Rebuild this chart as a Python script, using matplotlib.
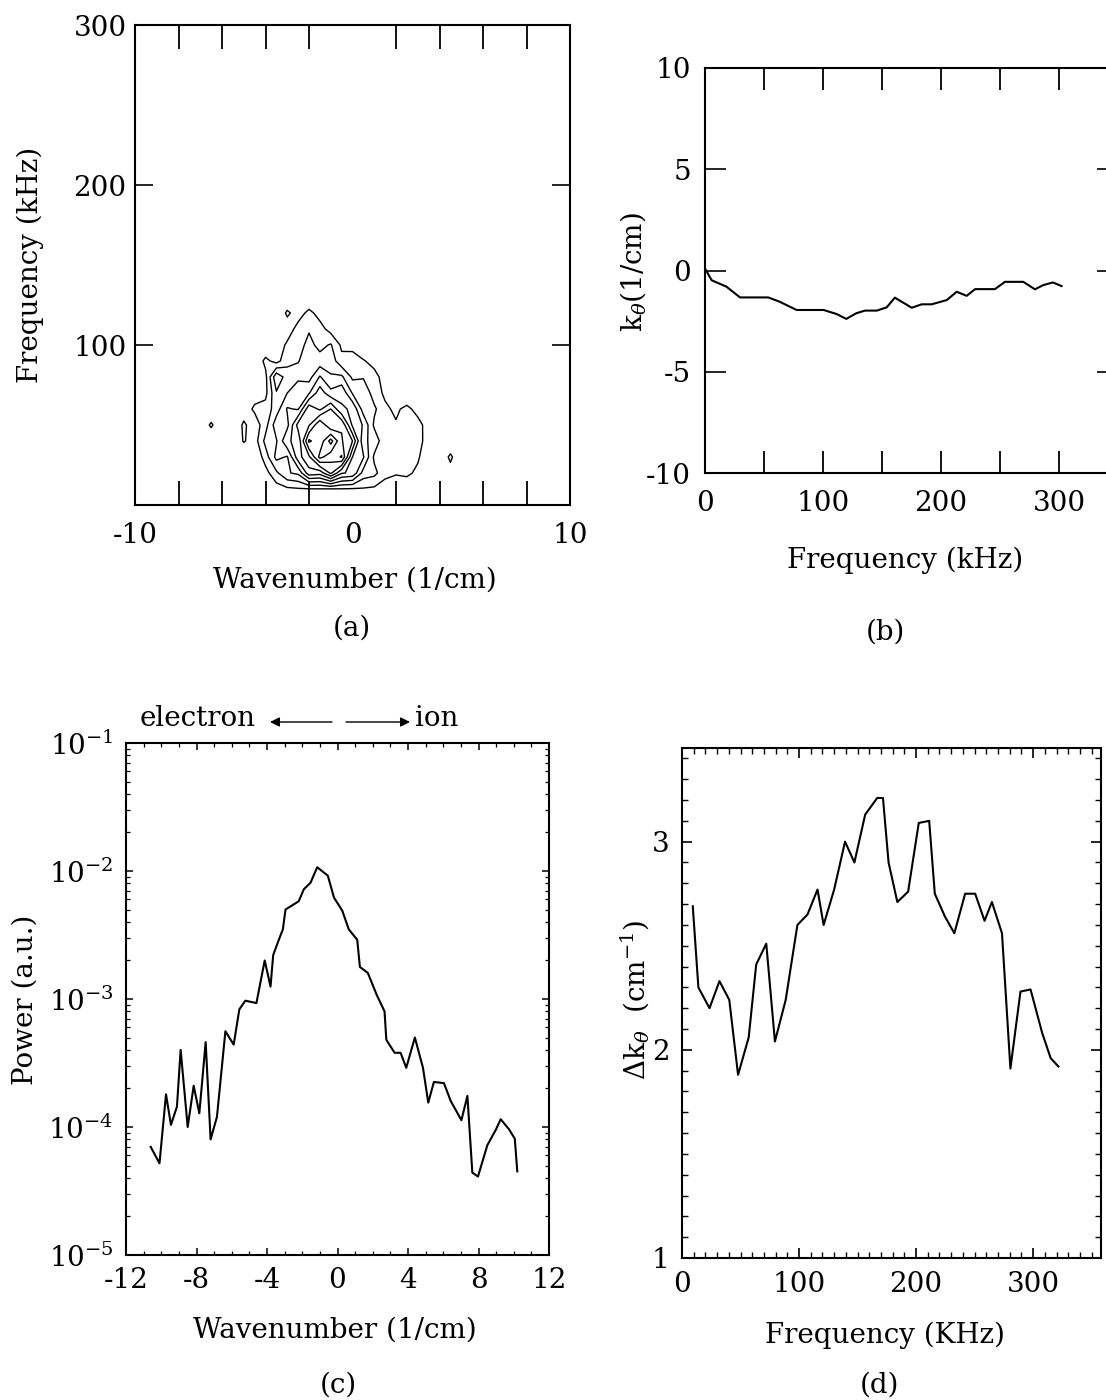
import numpy as np
import matplotlib
matplotlib.use("Agg")
import matplotlib.pyplot as plt
from matplotlib.ticker import MultipleLocator, LogLocator, NullFormatter

plt.rcParams["font.family"] = ["DejaVu Serif"]
plt.rcParams["mathtext.fontset"] = "dejavuserif"
plt.rcParams["axes.unicode_minus"] = False
plt.rcParams["font.size"] = 20

# (a) contour map: wavenumber grid x frequency grid
k_grid = [-7.0, -6.5, -6.0, -5.5, -5.0, -4.5, -4.0, -3.5, -3.0, -2.5, -2.0, -1.5, -1.0,
          -0.5, 0.0, 0.5, 1.0, 1.5, 2.0, 2.5, 3.0, 3.5, 4.0, 4.5, 5.0, 5.5]
f_grid = [0, 10, 20, 30, 40, 50, 60, 70, 80, 90, 100, 110, 120, 130]
power_grid = [
    [0, 0, 0, 0, 0, 0, 0, 0, 0, 0, 0, 0, 0, 0, 0, 0, 0, 0, 0, 0, 0, 0, 0, 0, 0, 0],
    [0, 0, 0, 0, 0, 0, 0, 0.5, 0.8, 0.9, 0.95, 0.95, 0.95, 0.95, 0.9, 0.9, 0.8, 0.5, 0.3, 0, 0, 0, 0, 0, 0, 0],
    [0, 0, 0, 0, 0, 0, 0.6, 1.8, 2.9, 3.2, 5.6, 5.4, 7.2, 5.1, 4.8, 2.6, 2.3, 1.3, 1.1, 1.3, 0.7, 0, 0.6, 0.5, 0, 0],
    [0, 0, 0, 0, 0, 0, 1.5, 3.3, 2.9, 5.6, 6.8, 9.3, 8.4, 9.1, 5.0, 4.1, 1.8, 1.6, 1.7, 1.4, 1.2, 0, 0, 1.25, 0, 0],
    [0, 0, 0, 0, 1.1, 0.5, 2.3, 2.9, 4.9, 5.2, 9.2, 8.3, 10.4, 8.1, 7.0, 3.2, 2.7, 1.2, 1.5, 1.8, 1.5, 0.4, 0, 0, 0, 0],
    [0, 1.2, 0, 0, 1.2, 0.4, 1.6, 3.6, 3.7, 6.4, 6.9, 8.9, 7.1, 7.9, 4.8, 3.9, 1.8, 1.6, 1.1, 1.7, 1.4, 0.5, 0, 0, 0, 0],
    [0, 0, 0, 0, 0.4, 1.2, 1.4, 2.5, 4.1, 3.9, 6.7, 5.8, 7.0, 5.1, 4.9, 2.5, 2.2, 1.2, 0.8, 1.3, 0.6, 0, 0, 0, 0, 0],
    [0, 0, 0, 0, 0, 0.5, 0.7, 2.9, 3.0, 3.6, 3.9, 5.6, 4.3, 4.8, 2.9, 2.8, 1.5, 0.8, 0, 0, 0, 0, 0, 0, 0, 0],
    [0, 0, 0, 0, 0, 0, 0.7, 3.8, 2.5, 2.8, 2.6, 4.1, 3.1, 3.2, 1.8, 1.9, 1.4, 0.5, 0, 0, 0, 0, 0, 0, 0, 0],
    [0, 0, 0, 0, 0, 0, 1.3, 0.6, 1.7, 1.9, 2.9, 2.4, 2.6, 1.3, 2.0, 1.1, 0.6, 0, 0, 0, 0, 0, 0, 0, 0, 0],
    [0, 0, 0, 0, 0, 0, 0, 0.3, 1.2, 1.6, 2.3, 1.7, 2.1, 0.8, 0.3, 0, 0, 0, 0, 0, 0, 0, 0, 0, 0, 0],
    [0, 0, 0, 0, 0, 0, 0, 0, 0.4, 1.4, 1.9, 1.4, 0.6, 0, 0, 0, 0, 0, 0, 0, 0, 0, 0, 0, 0, 0],
    [0, 0, 0, 0, 0, 0, 0, 0, 1.2, 0.5, 1.3, 0.6, 0, 0, 0, 0, 0, 0, 0, 0, 0, 0, 0, 0, 0, 0],
    [0, 0, 0, 0, 0, 0, 0, 0, 0, 0, 0, 0, 0, 0, 0, 0, 0, 0, 0, 0, 0, 0, 0, 0, 0, 0],
]
contour_levels = [1, 2, 3, 4, 5, 6, 7, 8, 9, 10]

# (b) mean poloidal wavenumber vs frequency
f_b = [0, 5.6, 18.2, 29.7, 53.6, 63.2, 77.6, 100.5, 111.6, 119.7, 128.3, 135.6, 145.6, 154,
       160.9, 175.2, 183.6, 192.1, 204.9, 213.3, 221.8, 228.9, 245.7, 254.2, 269.8, 279.6,
       286.7, 294.9, 302.2]
k_b = [0.1, -0.48, -0.8, -1.33, -1.33, -1.54, -1.95, -1.95, -2.15, -2.39, -2.11, -1.98, -1.98,
       -1.82, -1.34, -1.84, -1.67, -1.67, -1.46, -1.05, -1.25, -0.92, -0.92, -0.56, -0.56,
       -0.93, -0.72, -0.59, -0.77]

# (c) wavenumber spectrum
k_c = [-10.6, -10.1, -9.73, -9.45, -9.11, -8.9, -8.5, -8.16, -7.84, -7.48, -7.2, -6.84, -6.36,
       -5.89, -5.57, -5.23, -4.6, -4.13, -3.8, -3.65, -3.33, -3.1, -2.95, -2.2, -1.91, -1.53,
       -1.15, -0.55, -0.2, 0.27, 0.64, 1.12, 1.27, 1.72, 2.22, 2.67, 2.77, 3.24, 3.58, 3.9,
       4.39, 4.85, 5.15, 5.47, 6.04, 6.42, 7.03, 7.37, 7.65, 7.97, 8.5, 8.98, 9.26, 9.73,
       10.06, 10.2]
p_c = [7.0e-5, 5.2e-5, 1.8e-4, 1.04e-4, 1.44e-4, 4.0e-4, 1.0e-4, 2.1e-4, 1.28e-4, 4.6e-4,
       8.0e-5, 1.2e-4, 5.6e-4, 4.4e-4, 8.3e-4, 9.7e-4, 9.3e-4, 2.0e-3, 1.25e-3, 2.2e-3,
       2.9e-3, 3.5e-3, 5.0e-3, 5.8e-3, 7.2e-3, 8.1e-3, 1.07e-2, 9.2e-3, 6.2e-3, 4.9e-3,
       3.5e-3, 2.9e-3, 1.78e-3, 1.6e-3, 1.08e-3, 8.0e-4, 4.8e-4, 3.8e-4, 3.8e-4, 2.9e-4,
       5.0e-4, 2.9e-4, 1.55e-4, 2.25e-4, 2.2e-4, 1.6e-4, 1.13e-4, 1.75e-4, 4.4e-5, 4.1e-5,
       7.2e-5, 9.5e-5, 1.15e-4, 9.6e-5, 8.1e-5, 4.5e-5]

# (d) spectral width vs frequency
f_d = [9.2, 14, 23.5, 32, 40.4, 47.9, 57, 63.4, 72, 79.4, 88.6, 98.6, 107.2, 115.8, 121, 130,
       139.3, 147.3, 156.5, 166.8, 171.7, 176.5, 184, 193.2, 202.3, 211.2, 216, 224.7, 232.7,
       241.9, 250.5, 258.5, 264.8, 273.4, 280.6, 289.2, 297.8, 307.8, 315, 321.6]
dk_d = [2.69, 2.30, 2.20, 2.33, 2.24, 1.88, 2.06, 2.41, 2.51, 2.04, 2.24, 2.60, 2.65, 2.77,
        2.60, 2.77, 3.0, 2.90, 3.13, 3.21, 3.21, 2.90, 2.71, 2.76, 3.09, 3.10, 2.75, 2.64,
        2.56, 2.75, 2.75, 2.62, 2.71, 2.56, 1.91, 2.28, 2.29, 2.08, 1.96, 1.92]

W, H = 1106, 1400


def box(left, top, right, bottom):
    # pixel box -> figure fraction rect
    return [left / W, 1 - bottom / H, (right - left) / W, (bottom - top) / H]


def ftext(x, y, s, **kw):
    fig.text(x / W, 1 - y / H, s, ha="center", va="center", **kw)


fig = plt.figure(figsize=(W / 100, H / 100), dpi=100)

# ---- (a)
ax_a = fig.add_axes(box(135, 25, 570, 505))
ax_a.contour(k_grid, f_grid, np.array(power_grid), levels=contour_levels,
             colors="black", linewidths=1.0)
ax_a.set_xlim(-10, 10)
ax_a.set_ylim(0, 300)
ax_a.set_xticks([-10, 0, 10])
ax_a.xaxis.set_minor_locator(MultipleLocator(2))
ax_a.set_yticks([100, 200, 300])
ax_a.tick_params(axis="x", which="major", direction="in", top=True, length=0, pad=12)
ax_a.tick_params(axis="x", which="minor", direction="in", top=True, length=17, width=1.3)
ax_a.tick_params(axis="y", which="major", direction="in", right=True, length=13, width=1.2, pad=6)
ftext(355, 580, "Wavenumber (1/cm)")
ftext(30, 265, "Frequency (kHz)", rotation=90)

# ---- (b)
ax_b = fig.add_axes(box(705, 68, 1118, 473))
ax_b.plot(f_b, k_b, color="black", lw=1.5)
ax_b.set_xlim(0, 350)
ax_b.set_ylim(-10, 10)
ax_b.set_xticks([0, 100, 200, 300])
ax_b.xaxis.set_minor_locator(MultipleLocator(50))
ax_b.set_yticks([-10, -5, 0, 5, 10])
ax_b.tick_params(axis="x", which="major", direction="in", top=True, length=16, width=1.3, pad=12)
ax_b.tick_params(axis="x", which="minor", direction="in", top=True, length=16, width=1.3)
ax_b.tick_params(axis="y", which="major", direction="in", right=True, length=15, width=1.2, pad=10)
ftext(905, 560, "Frequency (kHz)")
ftext(633, 272, r"k$_\theta$(1/cm)", rotation=90)

# ---- (c)
ax_c = fig.add_axes(box(126, 743, 549, 1255))
ax_c.plot(k_c, p_c, color="black", lw=1.5)
ax_c.set_yscale("log")
ax_c.set_xlim(-12, 12)
ax_c.set_ylim(1e-5, 1e-1)
ax_c.set_xticks([-12, -8, -4, 0, 4, 8, 12])
ax_c.xaxis.set_minor_locator(MultipleLocator(1))
ax_c.yaxis.set_major_locator(LogLocator(base=10, numticks=10))
ax_c.yaxis.set_minor_locator(LogLocator(base=10, subs=np.arange(2, 10), numticks=20))
ax_c.yaxis.set_minor_formatter(NullFormatter())
ax_c.tick_params(which="major", direction="in", top=True, right=True, length=5, width=1.1, pad=9)
ax_c.tick_params(which="minor", direction="in", top=True, right=True, length=3, width=0.9)
ftext(335, 1330, "Wavenumber (1/cm)")
ftext(25, 1000, "Power (a.u.)", rotation=90)

fig.text(140 / W, 1 - 718 / H, "electron", ha="left", va="center")
fig.text(415 / W, 1 - 718 / H, "ion", ha="left", va="center")
ax_c.annotate("", xy=(270 / W, 1 - 722 / H), xytext=(332 / W, 1 - 722 / H),
              xycoords="figure fraction", textcoords="figure fraction",
              arrowprops=dict(arrowstyle="-|>", color="black", lw=1.0,
                              mutation_scale=14, shrinkA=0, shrinkB=0))
ax_c.annotate("", xy=(410 / W, 1 - 722 / H), xytext=(346 / W, 1 - 722 / H),
              xycoords="figure fraction", textcoords="figure fraction",
              arrowprops=dict(arrowstyle="-|>", color="black", lw=1.0,
                              mutation_scale=14, shrinkA=0, shrinkB=0))

# ---- (d)
ax_d = fig.add_axes(box(682, 748, 1101, 1258))
ax_d.plot(f_d, dk_d, color="black", lw=1.5)
ax_d.set_xlim(0, 358)
ax_d.set_ylim(1.0, 3.45)
ax_d.set_xticks([0, 100, 200, 300])
ax_d.xaxis.set_minor_locator(MultipleLocator(10))
ax_d.set_yticks([1, 2, 3])
ax_d.yaxis.set_minor_locator(MultipleLocator(0.1))
ax_d.tick_params(which="major", direction="in", top=True, right=True, length=7, width=1.2, pad=9)
ax_d.tick_params(which="minor", direction="in", top=True, right=True, length=4, width=1.0)
ftext(885, 1335, "Frequency (KHz)")
ftext(635, 1000, r"$\Delta$k$_\theta$  (cm$^{-1}$)", rotation=90)

for ax in (ax_a, ax_b, ax_c, ax_d):
    for sp in ax.spines.values():
        sp.set_linewidth(1.5)

ftext(352, 628, "(a)")
ftext(885, 632, "(b)")
ftext(338, 1385, "(c)")
ftext(880, 1385, "(d)")

fig.savefig("out.png", dpi=100)
